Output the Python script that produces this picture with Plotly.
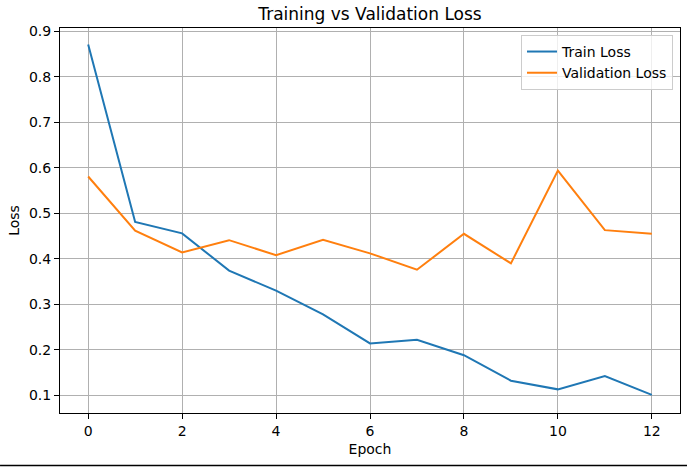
import plotly.graph_objects as go

epochs = list(range(13))
train_loss = [0.871, 0.481, 0.456, 0.374, 0.330, 0.278, 0.214, 0.222, 0.188, 0.132, 0.113, 0.142, 0.101]
val_loss = [0.581, 0.462, 0.414, 0.441, 0.408, 0.442, 0.412, 0.376, 0.455, 0.390, 0.594, 0.463, 0.455]
x_ticks = [0, 2, 4, 6, 8, 10, 12]
y_ticks = [0.1, 0.2, 0.3, 0.4, 0.5, 0.6, 0.7, 0.8, 0.9]

font = "DejaVu Sans, sans-serif"
fig = go.Figure()
fig.add_trace(go.Scatter(x=epochs, y=train_loss, mode="lines", name="Train Loss",
                         line=dict(color="#1f77b4", width=2)))
fig.add_trace(go.Scatter(x=epochs, y=val_loss, mode="lines", name="Validation Loss",
                         line=dict(color="#ff7f0e", width=2)))

axis_common = dict(showline=True, linecolor="black", linewidth=1, mirror=True,
                   showgrid=True, gridcolor="#b0b0b0", gridwidth=1,
                   ticks="outside", ticklen=5, tickcolor="black", tickwidth=1,
                   zeroline=False, automargin=False,
                   tickfont=dict(family=font, size=14, color="black"))

fig.update_layout(
    width=687, height=467,
    margin=dict(l=60, r=7, t=28, b=54),
    paper_bgcolor="white", plot_bgcolor="white",
    title=dict(text="Training vs Validation Loss", x=(60 + 680) / 2 / 687, xanchor="center",
               y=1 - 14 / 467, yanchor="middle",
               font=dict(family=font, size=17, color="black")),
    xaxis=dict(range=[-0.6, 12.6], tickvals=x_ticks, ticktext=[str(v) for v in x_ticks],
               title=dict(text="Epoch", font=dict(family=font, size=14, color="black"), standoff=6),
               **axis_common),
    yaxis=dict(range=[0.061, 0.9075], tickvals=y_ticks, ticktext=[f"{v:.1f}" for v in y_ticks],
               title=dict(text="Loss", font=dict(family=font, size=14, color="black"), standoff=6),
               **axis_common),
    legend=dict(x=0.9887, y=0.982, xanchor="right", yanchor="top",
                bgcolor="rgba(255,255,255,0.8)", bordercolor="#cccccc", borderwidth=1,
                font=dict(family=font, size=14, color="black"), tracegroupgap=0),
    showlegend=True,
)
fig.add_shape(type="line", xref="paper", yref="paper", x0=-60 / 620.3, x1=1 + 7 / 620.3,
              y0=-52.5 / 384.7, y1=-52.5 / 384.7, line=dict(color="black", width=1.5))
fig.write_html("out.html", config={"displayModeBar": False},
               post_script="document.body.style.margin='0';document.body.style.padding='0';")
